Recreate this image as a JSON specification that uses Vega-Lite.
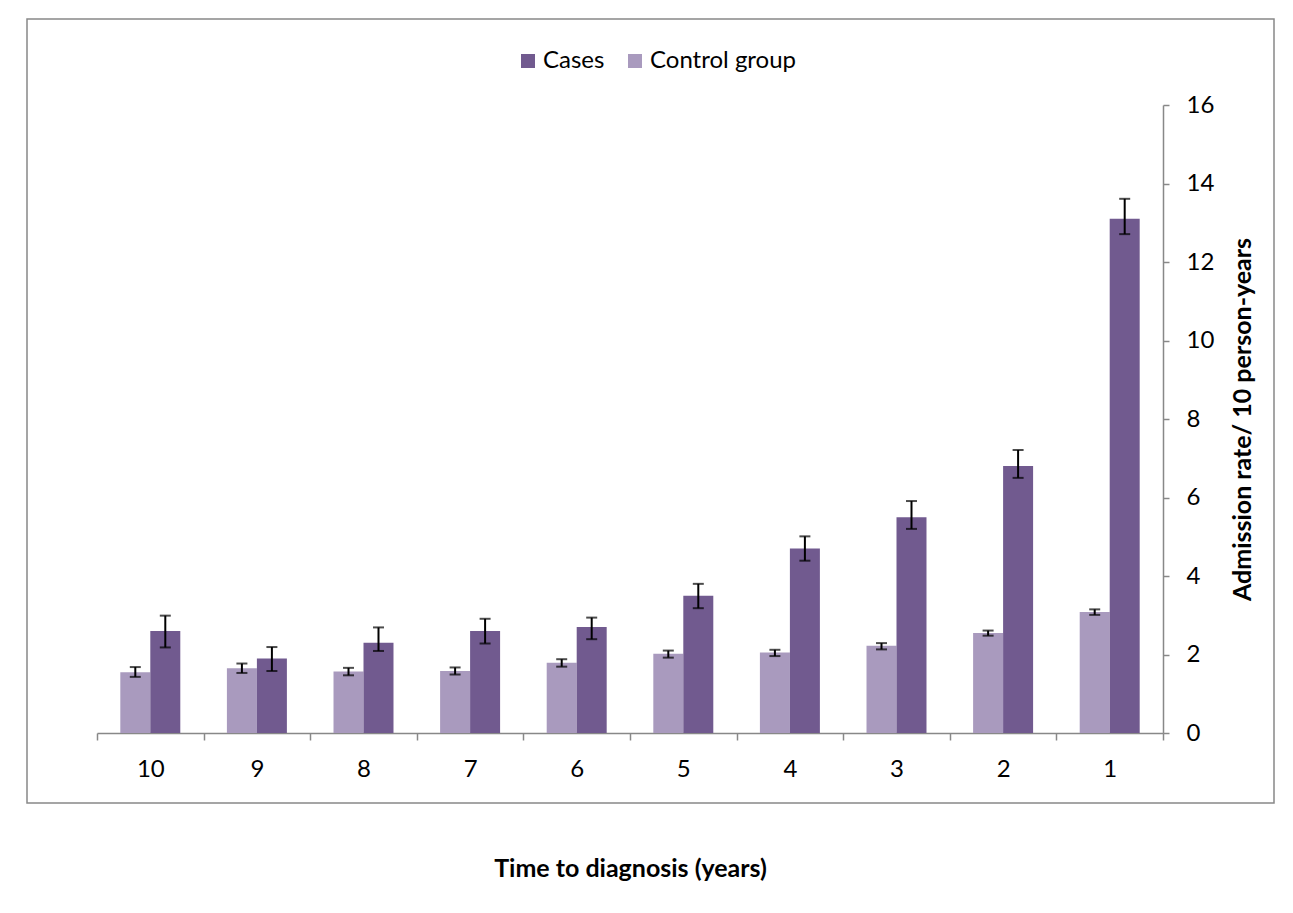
{
  "$schema": "https://vega.github.io/schema/vega-lite/v6.json",
  "width": 1247,
  "height": 784,
  "autosize": {"type": "none"},
  "padding": {"left": 27, "top": 19, "right": 19, "bottom": 110},
  "background": "white",
  "config": {
    "font": "Lato",
    "view": {"stroke": "#888888", "strokeWidth": 1.5},
    "axis": {"grid": false}
  },
  "data": {
    "values": [
      {"group": "10", "series": "Control group", "value": 1.55, "lo": 1.43, "hi": 1.68},
      {"group": "10", "series": "Cases", "value": 2.6, "lo": 2.18, "hi": 2.99},
      {"group": "9", "series": "Control group", "value": 1.65, "lo": 1.53, "hi": 1.77},
      {"group": "9", "series": "Cases", "value": 1.9, "lo": 1.58, "hi": 2.19},
      {"group": "8", "series": "Control group", "value": 1.57, "lo": 1.47, "hi": 1.66},
      {"group": "8", "series": "Cases", "value": 2.3, "lo": 2.09, "hi": 2.69},
      {"group": "7", "series": "Control group", "value": 1.58, "lo": 1.49, "hi": 1.67},
      {"group": "7", "series": "Cases", "value": 2.6, "lo": 2.28, "hi": 2.91},
      {"group": "6", "series": "Control group", "value": 1.79, "lo": 1.69, "hi": 1.88},
      {"group": "6", "series": "Cases", "value": 2.7, "lo": 2.39, "hi": 2.94},
      {"group": "5", "series": "Control group", "value": 2.02, "lo": 1.92, "hi": 2.1},
      {"group": "5", "series": "Cases", "value": 3.5, "lo": 3.18, "hi": 3.8},
      {"group": "4", "series": "Control group", "value": 2.05, "lo": 1.96, "hi": 2.12},
      {"group": "4", "series": "Cases", "value": 4.7, "lo": 4.39, "hi": 5.01},
      {"group": "3", "series": "Control group", "value": 2.22, "lo": 2.13, "hi": 2.29},
      {"group": "3", "series": "Cases", "value": 5.5, "lo": 5.2, "hi": 5.91},
      {"group": "2", "series": "Control group", "value": 2.55, "lo": 2.48, "hi": 2.61},
      {"group": "2", "series": "Cases", "value": 6.8, "lo": 6.5, "hi": 7.21},
      {"group": "1", "series": "Control group", "value": 3.08, "lo": 3.01, "hi": 3.15},
      {"group": "1", "series": "Cases", "value": 13.1, "lo": 12.71, "hi": 13.61}
    ]
  },
  "encoding": {
    "x": {
      "field": "group",
      "type": "nominal",
      "sort": ["10", "9", "8", "7", "6", "5", "4", "3", "2", "1"],
      "scale": {"range": [70, 1136], "paddingInner": 0, "paddingOuter": 0},
      "axis": {
        "title": "Time to diagnosis (years)",
        "orient": "bottom",
        "offset": -70,
        "labelAngle": 0,
        "tickBand": "extent",
        "tickSize": 7,
        "tickColor": "#888888",
        "tickWidth": 1.5,
        "domainColor": "#888888",
        "domainWidth": 1.5,
        "labelFontSize": 24,
        "labelColor": "black",
        "labelPadding": 17,
        "titleFontSize": 25,
        "titleFontWeight": "bold",
        "titleColor": "black",
        "titlePadding": 75
      }
    },
    "xOffset": {
      "field": "series",
      "type": "nominal",
      "sort": ["Control group", "Cases"],
      "scale": {"paddingInner": 0, "paddingOuter": 0.777}
    }
  },
  "layer": [
    {
      "mark": {"type": "bar"},
      "encoding": {
        "y": {
          "field": "value",
          "type": "quantitative",
          "scale": {"domain": [0, 16], "range": [714, 86]},
          "axis": {
            "title": "Admission rate/ 10 person-years",
            "orient": "right",
            "offset": -111,
            "values": [0, 2, 4, 6, 8, 10, 12, 14, 16],
            "tickSize": 6,
            "tickColor": "#888888",
            "tickWidth": 1.5,
            "domainColor": "#888888",
            "domainWidth": 1.5,
            "labelFontSize": 24,
            "labelColor": "black",
            "labelPadding": 17,
            "titleFontSize": 25,
            "titleFontWeight": "bold",
            "titleColor": "black",
            "titleAngle": 270,
            "titlePadding": 42
          }
        },
        "color": {
          "field": "series",
          "type": "nominal",
          "scale": {"domain": ["Cases", "Control group"], "range": ["#715A8F", "#A99ABE"]},
          "legend": {
            "title": null,
            "orient": "none",
            "legendX": 489,
            "legendY": 30,
            "direction": "horizontal",
            "symbolType": "square",
            "symbolSize": 196,
            "symbolStrokeWidth": 0,
            "labelFontSize": 24,
            "labelColor": "black",
            "labelOffset": 3,
            "columnPadding": 18,
            "padding": 0
          }
        }
      }
    },
    {
      "mark": {"type": "rule", "color": "black", "strokeWidth": 2},
      "encoding": {
        "y": {"field": "lo", "type": "quantitative"},
        "y2": {"field": "hi"}
      }
    },
    {
      "mark": {"type": "tick", "color": "black", "thickness": 2, "size": 11},
      "encoding": {
        "y": {"field": "lo", "type": "quantitative"}
      }
    },
    {
      "mark": {"type": "tick", "color": "black", "thickness": 2, "size": 11},
      "encoding": {
        "y": {"field": "hi", "type": "quantitative"}
      }
    }
  ]
}
